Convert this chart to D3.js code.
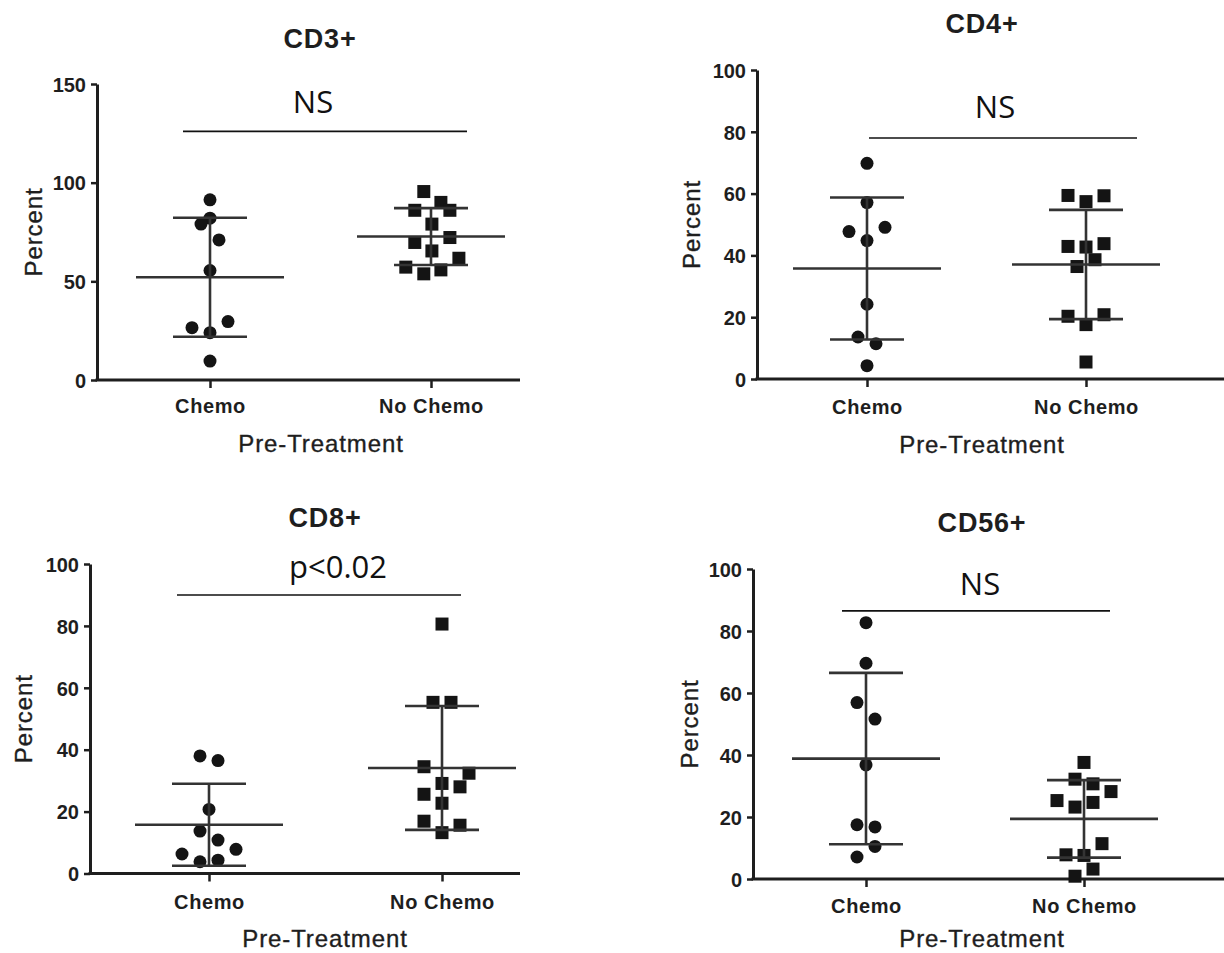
<!DOCTYPE html>
<html>
<head>
<meta charset="utf-8">
<title>Pre-Treatment lymphocyte subsets</title>
<script src="https://cdn.jsdelivr.net/npm/d3@7"></script>
<style>
    html, body { margin: 0; padding: 0; background: #fff; }
    svg { display: block; }
    .tick text { font-family: "Liberation Sans", Arial, sans-serif; font-weight: bold; font-size: 20px; fill: #1e1e1e; }
    .title { font-family: "Liberation Sans", Arial, sans-serif; font-weight: bold; font-size: 27px; fill: #1e1e1e; letter-spacing: 0.8px; }
    .axisTitle { font-family: "Liberation Sans", Arial, sans-serif; font-size: 24px; fill: #1e1e1e; stroke: #1e1e1e; stroke-width: 0.35px; letter-spacing: 0.9px; }
    .sig { font-family: "Open Sans", "Noto Sans", sans-serif; font-size: 31px; fill: #111; }
</style>
</head>
<body>
<div id="chart"></div>
<script>
;(function () {
    "use strict";

    // ---- data ----
    var categories = ["Chemo", "No Chemo"];
    var panelTitles = ["CD3+", "CD4+", "CD8+", "CD56+"];
    var sigLabels = ["NS", "NS", "p<0.02", "NS"];
    var sigLevels = [126, 78, 90, 86.5];
    var yMaxes = [150, 100, 100, 100];
    var yTickValues = [[0, 50, 100, 150], [0, 20, 40, 60, 80, 100], [0, 20, 40, 60, 80, 100], [0, 20, 40, 60, 80, 100]];

    var cd3Chemo       = [91.3, 82.0, 79.0, 71.0, 55.5, 29.6, 26.5, 24.0, 9.6];
    var cd3ChemoSlot   = [0, 0, -1, 1, 0, 2, -2, 0, 0];
    var cd3NoChemo     = [95.5, 90.0, 86.0, 86.0, 79.0, 72.2, 69.7, 65.4, 61.7, 57.2, 55.8, 53.8];
    var cd3NoChemoSlot = [-0.8, 1.1, -1.8, 2.1, 0.1, 2.1, -1.8, 0.1, 3.1, -2.8, 1.1, -0.8];

    var cd4Chemo       = [69.8, 57.1, 49.1, 47.7, 44.8, 24.2, 13.6, 11.4, 4.3];
    var cd4ChemoSlot   = [0, 0, 2, -2, 0, 0, -1, 1, 0];
    var cd4NoChemo     = [59.4, 59.3, 57.4, 43.8, 42.9, 42.7, 38.6, 36.4, 20.8, 20.3, 17.6, 5.5];
    var cd4NoChemoSlot = [-2, 2, 0, 2, -2, 0, 1, -1, 2, -2, 0, 0];

    var cd8Chemo       = [38.0, 36.5, 20.7, 13.7, 10.8, 7.8, 6.3, 4.3, 3.8];
    var cd8ChemoSlot   = [-1, 1, 0, -1, 1, 3, -3, 1, -1];
    var cd8NoChemo     = [80.6, 55.3, 55.3, 34.5, 32.4, 29.1, 28.0, 25.6, 22.7, 16.9, 15.6, 13.2];
    var cd8NoChemoSlot = [0, -1, 1, -2, 3, 0, 2, -2, 0, -2, 2, 0];

    var cd56Chemo       = [82.7, 69.6, 56.9, 51.6, 36.8, 17.5, 16.8, 10.5, 7.1];
    var cd56ChemoSlot   = [0, 0, -1, 1, 0, -1, 1, 1, -1];
    var cd56NoChemo     = [37.6, 32.2, 30.7, 28.2, 25.3, 24.7, 23.2, 11.4, 7.8, 7.6, 3.2, 0.9];
    var cd56NoChemoSlot = [0, -1, 1, 3, -3, 1, -1, 2, -2, 0, 1, -1];

    var groups = [
        [[cd3Chemo, cd3ChemoSlot], [cd3NoChemo, cd3NoChemoSlot]],
        [[cd4Chemo, cd4ChemoSlot], [cd4NoChemo, cd4NoChemoSlot]],
        [[cd8Chemo, cd8ChemoSlot], [cd8NoChemo, cd8NoChemoSlot]],
        [[cd56Chemo, cd56ChemoSlot], [cd56NoChemo, cd56NoChemoSlot]]
    ];

    // ---- page layout (pixels) ----
    var layout = [
        {ax: 97,  top: 84,  bottom: 380,   right: 520,  cx: [210, 431],  titleX: 320, titleY: 48,  sigX: 313, sigY: 113, sigX1: 183, sigX2: 467,  tickY: 413, xTitleX: 321, xTitleY: 452, yTitleX: 42},
        {ax: 757, top: 70,  bottom: 379,   right: 1224, cx: [867, 1086], titleX: 982, titleY: 33,  sigX: 995, sigY: 118, sigX1: 869, sigX2: 1137, tickY: 414, xTitleX: 982, xTitleY: 453, yTitleX: 700},
        {ax: 90,  top: 564, bottom: 873.5, right: 520,  cx: [209, 442],  titleX: 325, titleY: 527, sigX: 338, sigY: 578, sigX1: 177, sigX2: 461,  tickY: 909, xTitleX: 325, xTitleY: 947, yTitleX: 32},
        {ax: 753, top: 569, bottom: 879,   right: 1224, cx: [866, 1084], titleX: 982, titleY: 532, sigX: 980, sigY: 595, sigX1: 842, sigX2: 1110, tickY: 913, xTitleX: 982, xTitleY: 947, yTitleX: 698}
    ];

    var W = 1224, H = 953;
    var dotR = 6.5, sq = 13;
    var meanHalf = 74, capHalf = 37;
    var axisColor = "#1e1e1e", barColor = "#333", dotColor = "#141414";
    var slot = d3.scaleLinear().domain([0, 1]).range([0, 9]);

    var svg = d3.select("#chart").append("svg")
        .attr("width", W)
        .attr("height", H);

    layout.forEach(function (L, i) {
        var g = svg.append("g").attr("class", "panel");

        var y = d3.scaleLinear().domain([0, yMaxes[i]]).range([L.bottom, L.top]);
        var x = d3.scalePoint().domain(categories).range(L.cx);

        // y axis
        var yAxis = g.append("g")
            .attr("transform", "translate(" + L.ax + ",0)")
            .call(d3.axisLeft(y).tickValues(yTickValues[i]).tickSize(6).tickSizeOuter(0).tickPadding(5));
        yAxis.select(".domain").attr("stroke", axisColor).attr("stroke-width", 3);
        yAxis.selectAll(".tick line").attr("stroke", axisColor).attr("stroke-width", 2.5);
        yAxis.selectAll(".tick text").attr("dy", "0.36em");

        // x axis: baseline runs across the whole panel, ticks only at categories
        g.append("line")
            .attr("x1", L.ax - 1.5).attr("x2", L.right)
            .attr("y1", L.bottom).attr("y2", L.bottom)
            .attr("stroke", axisColor).attr("stroke-width", 3);
        var xAxis = g.append("g")
            .attr("transform", "translate(0," + L.bottom + ")")
            .call(d3.axisBottom(x).tickSize(8).tickSizeOuter(0));
        xAxis.select(".domain").remove();
        xAxis.selectAll(".tick line").attr("stroke", axisColor).attr("stroke-width", 2.5);
        xAxis.selectAll(".tick text")
            .attr("dy", null)
            .attr("y", L.tickY - L.bottom)
            .style("letter-spacing", "0.6px");

        // titles
        g.append("text").attr("class", "title")
            .attr("x", L.titleX).attr("y", L.titleY)
            .attr("text-anchor", "middle")
            .text(panelTitles[i]);
        g.append("text").attr("class", "axisTitle")
            .attr("x", L.xTitleX).attr("y", L.xTitleY)
            .attr("text-anchor", "middle")
            .text("Pre-Treatment");
        g.append("text").attr("class", "axisTitle")
            .attr("transform", "translate(" + L.yTitleX + "," + ((L.top + L.bottom) / 2) + ") rotate(-90)")
            .attr("text-anchor", "middle")
            .text("Percent");

        // significance bar
        g.append("line")
            .attr("x1", L.sigX1).attr("x2", L.sigX2)
            .attr("y1", y(sigLevels[i])).attr("y2", y(sigLevels[i]))
            .attr("stroke", "#111").attr("stroke-width", 1.6);
        g.append("text").attr("class", "sig")
            .attr("x", L.sigX).attr("y", L.sigY)
            .attr("text-anchor", "middle")
            .text(sigLabels[i]);

        // points: circles for Chemo, squares for No Chemo
        groups[i].forEach(function (grp, k) {
            var vals = grp[0], slots = grp[1];
            var cx = x(categories[k]);
            var pts = vals.map(function (v, j) { return {v: v, s: slots[j]}; });

            if (k === 0) {
                g.selectAll(null).data(pts).enter().append("circle")
                    .attr("cx", function (d) { return cx + slot(d.s); })
                    .attr("cy", function (d) { return y(d.v); })
                    .attr("r", dotR)
                    .attr("fill", dotColor);
            } else {
                g.selectAll(null).data(pts).enter().append("rect")
                    .attr("x", function (d) { return cx + slot(d.s) - sq / 2; })
                    .attr("y", function (d) { return y(d.v) - sq / 2; })
                    .attr("width", sq).attr("height", sq)
                    .attr("fill", dotColor);
            }

            // mean with SD
            var m = d3.mean(vals), sd = d3.deviation(vals);
            var bars = [
                [cx, y(m - sd), cx, y(m + sd)],
                [cx - meanHalf, y(m), cx + meanHalf, y(m)],
                [cx - capHalf, y(m + sd), cx + capHalf, y(m + sd)],
                [cx - capHalf, y(m - sd), cx + capHalf, y(m - sd)]
            ];
            g.selectAll(null).data(bars).enter().append("line")
                .attr("x1", function (d) { return d[0]; })
                .attr("y1", function (d) { return d[1]; })
                .attr("x2", function (d) { return d[2]; })
                .attr("y2", function (d) { return d[3]; })
                .attr("stroke", barColor)
                .attr("stroke-width", 2.6);
        });
    });

}());
</script>
</body>
</html>
